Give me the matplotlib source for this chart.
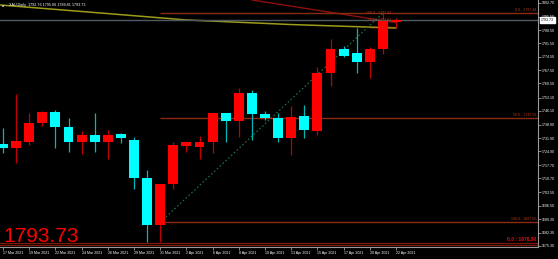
import numpy as np
import matplotlib
matplotlib.use('Agg')
import matplotlib.pyplot as plt

# XAU daily candles, 17 Mar 2021 .. 22 Apr 2021
opens = [1728.76, 1726.66, 1729.80, 1739.77, 1745.54, 1737.67, 1729.80, 1733.48,
         1729.80, 1734.00, 1730.85, 1710.93, 1686.28, 1707.78, 1727.71, 1727.18,
         1729.80, 1745.01, 1740.82, 1755.50, 1744.49, 1742.39, 1731.90, 1743.44,
         1735.57, 1765.99, 1778.57, 1776.48, 1771.76, 1778.57, 1792.76]
highs = [1737.15, 1754.98, 1745.01, 1746.06, 1746.59, 1742.39, 1735.57, 1745.01,
         1736.10, 1734.52, 1732.43, 1715.12, 1707.78, 1729.80, 1729.80, 1732.95,
         1745.01, 1745.01, 1758.12, 1757.07, 1746.06, 1745.01, 1748.68, 1749.21,
         1769.13, 1783.82, 1780.15, 1789.59, 1779.62, 1797.44, 1795.06]
lows = [1724.03, 1718.79, 1728.23, 1738.20, 1726.66, 1724.56, 1723.51, 1724.56,
        1720.89, 1729.28, 1705.16, 1677.36, 1677.36, 1705.16, 1724.56, 1720.89,
        1724.03, 1729.80, 1732.43, 1730.85, 1741.34, 1729.80, 1722.99, 1731.90,
        1733.48, 1759.17, 1774.38, 1765.99, 1763.37, 1775.95, 1789.81]
closes = [1726.66, 1730.33, 1739.77, 1745.54, 1737.67, 1729.80, 1733.48, 1729.80,
          1733.48, 1731.90, 1710.93, 1686.28, 1707.78, 1728.23, 1729.80, 1729.80,
          1745.01, 1740.82, 1755.50, 1744.49, 1742.39, 1731.90, 1742.91, 1736.10,
          1765.99, 1778.57, 1774.90, 1771.76, 1778.57, 1793.26, 1793.73]

date_labels = ["17 Mar 2021", "19 Mar 2021", "22 Mar 2021", "24 Mar 2021",
               "26 Mar 2021", "29 Mar 2021", "31 Mar 2021", "2 Apr 2021",
               "6 Apr 2021", "8 Apr 2021", "10 Apr 2021", "13 Apr 2021",
               "15 Apr 2021", "17 Apr 2021", "20 Apr 2021", "22 Apr 2021"]
price_ticks = [1802.70, 1795.50, 1788.50, 1781.50, 1774.50, 1767.50, 1760.50,
               1753.10, 1746.10, 1738.90, 1731.90, 1724.90, 1717.70, 1710.70,
               1703.50, 1696.50, 1689.30, 1682.30, 1675.30]

# moving average (olive line), sampled at a few bars
ma_bars = [-0.3, 7, 14, 22, 30]
ma_vals = [1801.7, 1797.7, 1793.8, 1791.4, 1789.6]

# fibonacci retracement: anchor bars and levels
fib_bars = [12, 29]
fib_levels = [1687.65, 1742.55, 1797.44]
fib_names = ["100.0", "50.0", "0.0"]
small_fib_levels = [1797.44, 1793.62, 1789.81]
small_fib_names = ["100.0", "50.0", "0.0"]
low_levels = [1676.90, 1675.90]

# dark red trend line
trend_bars = [19.0, 30.0]
trend_vals = [1804.3, 1792.4]

last_price = 1793.73
title = "XAU,Daily  1792.76 1795.06 1789.81 1793.73"

FONT = 'Liberation Sans'
RED = '#ff0000'
CYAN = '#00ffff'
FIB = '#8a2a10'
GRID = '#9a9a9a'

fig = plt.figure(figsize=(5.58, 2.59), dpi=100, facecolor='black')
ax = fig.add_axes([0, 12 / 259, 538 / 558, 247 / 259])
ax.set_facecolor('black')
ax.set_xlim(-0.23, 40.84)
ax.set_ylim(1674.74, 1804.27)

# lines behind the candles
ax.plot(ma_bars, ma_vals, color='#9c9c1c', lw=1.1, zorder=1)
ax.plot(trend_bars, trend_vals, color='#8b1010', lw=1.0, zorder=1)
ax.axhline(last_price, color='#4f5962', lw=1.0, zorder=1)
for lev in fib_levels:
    ax.hlines(lev, fib_bars[0], 40.84, color=FIB, lw=1.0, zorder=1)
for lev in low_levels:
    ax.axhline(lev, color='#7a1a0a', lw=0.9, zorder=1)
ax.plot([fib_bars[0], fib_bars[1]], [fib_levels[0], fib_levels[2]],
        color='#1a7a4a', lw=0.8, ls=(0, (1.5, 2)), zorder=1)

# candles
x = np.arange(len(opens))
o = np.array(opens)
c = np.array(closes)
up = c >= o
body_lo = np.minimum(o, c)
body_h = np.maximum(np.abs(c - o), 0.4)
ax.vlines(x[up], np.array(lows)[up], np.array(highs)[up], color='#c00000', lw=0.9, zorder=2)
ax.vlines(x[~up], np.array(lows)[~up], np.array(highs)[~up], color='#00b8b8', lw=0.9, zorder=2)
ax.bar(x[up], body_h[up], bottom=body_lo[up], width=0.76, color=RED, lw=0, zorder=3)
ax.bar(x[~up], body_h[~up], bottom=body_lo[~up], width=0.76, color=CYAN, lw=0, zorder=3)

# fib labels
for lev, name in zip(fib_levels, fib_names):
    ax.text(40.7, lev + 0.6, f"{name} - {lev:.2f}", color='#b03a18', fontsize=2.6,
            family=FONT, ha='right', va='bottom', zorder=4)
for lev, name in zip(small_fib_levels, small_fib_names):
    ax.text(29.6, lev, f"{name} - {lev:.2f}", color='#b03a18', fontsize=2.6,
            family=FONT, ha='right', va='center', zorder=4)
ax.text(40.7, low_levels[0] + 0.3, "0.0 : 1676.90", color='#e01010', fontsize=3.6,
        family=FONT, ha='right', va='bottom', zorder=4, fontweight='bold')

# axes styling
for side in ['top', 'left']:
    ax.spines[side].set_visible(False)
for side in ['right', 'bottom']:
    ax.spines[side].set_color(GRID)
    ax.spines[side].set_linewidth(0.8)
ax.yaxis.tick_right()
ax.set_yticks(price_ticks)
ax.set_yticklabels([f"{p:.2f}" for p in price_ticks])
ax.set_xticks(range(0, 31, 2))
ax.set_xticklabels(date_labels)
ax.tick_params(axis='both', colors=GRID, length=2, width=0.6, pad=1,
               labelsize=2.6, labelcolor='white')
for lab in ax.get_xticklabels():
    lab.set_ha('left')
    lab.set_family(FONT)
for lab in ax.get_yticklabels():
    lab.set_family(FONT)

# current price box on the axis
ax.text(1.005, (last_price - 1674.74) / (1804.27 - 1674.74), f"{last_price:.2f}",
        transform=ax.transAxes, color='black', fontsize=2.6, family=FONT,
        ha='left', va='center', zorder=5,
        bbox=dict(boxstyle='square,pad=0.25', fc='white', ec='white'))

# header and big price
fig.text(2 / 558, 1 - 6 / 259, "\u25a0", color='#c0c0c0', fontsize=2.6, family=FONT)
fig.text(9 / 558, 1 - 6 / 259, title, color='white', fontsize=2.7, family=FONT)
fig.text(3 / 558, 1 - 242 / 259, f"{last_price:.2f}", color=RED, fontsize=15,
         family=FONT, va='baseline')

fig.savefig('out.png', dpi=100, facecolor='black')
